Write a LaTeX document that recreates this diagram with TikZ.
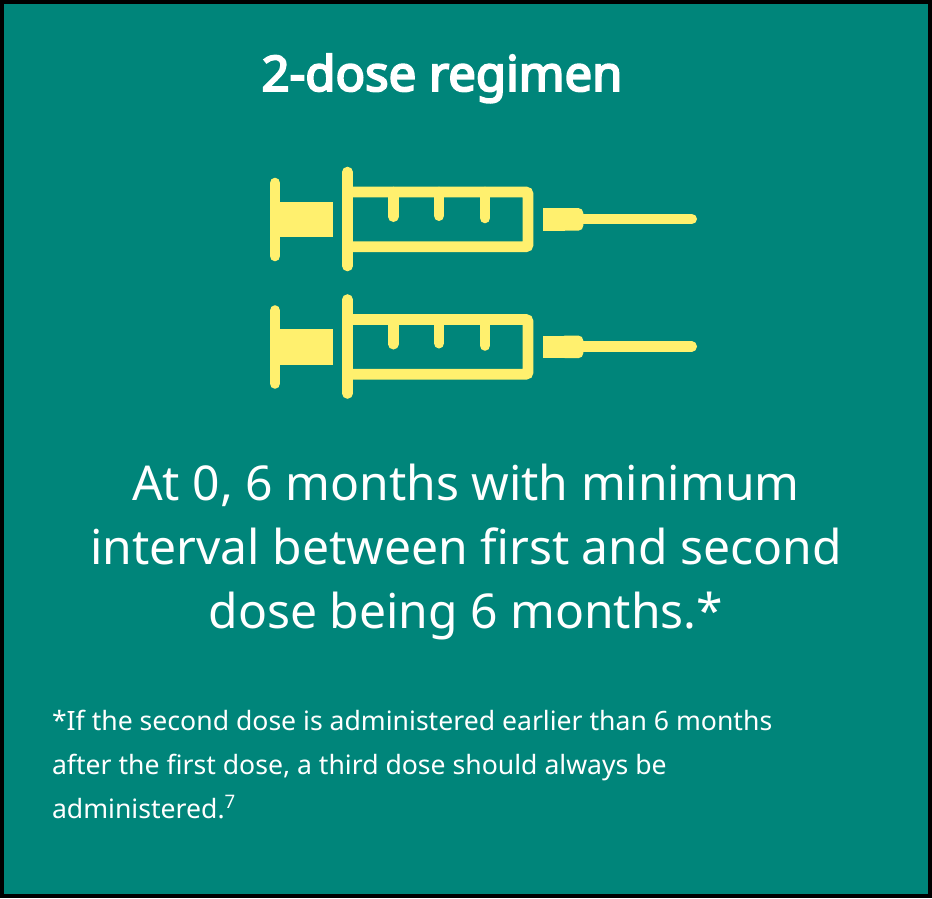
\documentclass[tikz,border=0pt]{standalone}
\usepackage{fontspec}
\setmainfont{Noto Sans}
\newfontfamily\titlefont[FakeBold=4]{Noto Sans}
\definecolor{tealbg}{HTML}{00857A}
\definecolor{doseyellow}{HTML}{FFF06E}
\tikzset{
    titletext/.style={text=white, anchor=base, font=\fontsize{49}{49}\selectfont\titlefont},
    bodytext/.style={text=white, anchor=base, font=\fontsize{48}{48}\selectfont},
    notetext/.style={text=white, anchor=base west, font=\fontsize{26.6}{26.6}\selectfont},
    syringeline/.style={draw=doseyellow, line width=10.6pt, line cap=round},
}
\begin{document}
\begin{tikzpicture}[x=1pt,y=-1pt]
    \useasboundingbox (0,0) rectangle (932,898);
    % Background and frame
    \fill [black] (0,0) rectangle (932,898);
    \fill [tealbg] (4,4) rectangle (928,894);

    % Title
    \node [titletext] (title) at (442,91) {2-dose regimen};

    % Drawing the two syringes
    \foreach \dy in {0,127.5} {
        \begin{scope}[yshift=-\dy pt]
            % plunger
            \draw [syringeline] (275,183) -- (275,256);
            \fill [doseyellow] (275,201.5) rectangle (333,237);
            % barrel
            \draw [syringeline] (347.5,172) -- (347.5,266);
            \draw [syringeline, line cap=butt, rounded corners=2pt] (347.5,192) -- (528,192) -- (528,246.7) -- (347.5,246.7);
            % marks
            \draw [syringeline] (393.3,192) -- (393.3,216.7);
            \draw [syringeline] (439,192) -- (439,215.7);
            \draw [syringeline] (485,192) -- (485,218);
            % hub and needle
            \fill [doseyellow, rounded corners=5pt] (560,208) -- (583.3,208) -- (583.3,230.7) -- (560,230.7) -- cycle;
            \fill [doseyellow] (542.7,208) rectangle (565,230.7);
            \draw [syringeline] (580,219) -- (691.7,219);
        \end{scope}
    }

    % Main text
    \node [bodytext] (bodya) at (466,500) {At 0, 6 months with minimum};
    \node [bodytext] (bodyb) at (466,564) {interval between first and second};
    \node [bodytext] (bodyc) at (466,628) {dose being 6 months.*};

    % Footnote
    \node [notetext] (notea) at (48.5,730) {*If the second dose is administered earlier than 6 months};
    \node [notetext] (noteb) at (48.5,774) {after the first dose, a third dose should always be};
    \node [notetext] (notec) at (48.5,818) {administered.\textsuperscript{7}};
\end{tikzpicture}
\end{document}
